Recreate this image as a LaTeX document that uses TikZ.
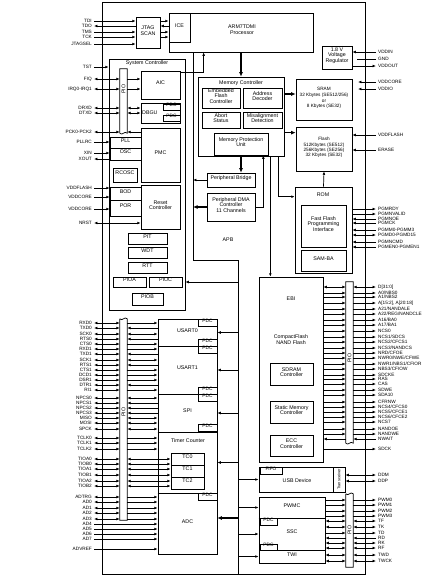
\documentclass[tikz,border=0pt]{standalone}
\usepackage{fontspec}
\setmainfont{Liberation Sans}
\usetikzlibrary{positioning,arrows.meta,fit,calc}

\begin{document}
\begin{tikzpicture}[
  x=1pt, y=-1pt,
  font=\fontsize{5.3}{5.9}\selectfont,
  >={Latex[length=3.4pt,width=2.8pt]},
  blk/.style={draw, line width=0.7pt, inner sep=0pt, align=center},
  txt/.style={inner sep=0pt, align=center},
  memtxt/.style={font=\fontsize{4.7}{5.3}\selectfont},
  pdcbox/.style={draw, line width=0.7pt, inner sep=0pt, font=\fontsize{4.8}{5}\selectfont},
  pinl/.style={anchor=east, inner xsep=2pt, inner ysep=0pt, font=\fontsize{4.7}{5}\selectfont},
  pinr/.style={anchor=west, inner xsep=2pt, inner ysep=0pt, font=\fontsize{4.7}{5}\selectfont},
  wire/.style={line width=0.7pt},
  sgI/.style={wire, ->},
  sgO/.style={wire, <-},
  sgB/.style={wire, <->},
  bus/.style={line width=1.5pt, -{Latex[length=4.5pt,width=4pt]}},
  thicksep/.style={line width=1.4pt},
]
  \useasboundingbox (0,0) rectangle (438,582);

  % chip outline
  \node[blk, fit={(102,2) (365,574)}] (chip) {};

  % processor and debug
  \node[blk, fit={(136,17) (160,48)}] (jtag) {JTAG\\SCAN};
  \node[blk, fit={(169,13) (313,52)}] (cpu) {};
  \node[txt] (cpuT) at (242,30) {ARM7TDMI\\Processor};
  \node[blk, fit={(169,13) (190,42)}] (ice) {ICE};
  \node[blk, fit={(322,46) (352,69)}] (vreg) {1.8 V\\Voltage\\Regulator};

  % system controller
  \node[blk, fit={(109,59) (185,310)}] (sysc) {};
  \node[txt] (syscT) at (147,63) {System Controller};
  \node[inner sep=0pt, fit={(120,69) (127,133)}] (pioS) {};
  \draw[wire] (pioS.south west) -- (pioS.north west) -- (pioS.north east) -- (pioS.south east)
    .. controls +(-2.5,-3) and +(2.5,3) .. (pioS.south west);
  \node[txt, rotate=90] (pioST) at (123.5,89) {PIO};
  \node[blk, fit={(141,71) (180,99)}] (aic) {AIC};
  \node[blk, fit={(141,103) (180,123)}] (dbgu) {};
  \node[txt, anchor=west] (dbguT) at (142,113) {DBGU};
  \node[pdcbox, fit={(163,104) (180,110)}] (pdcD1) {PDC};
  \node[pdcbox, fit={(163,115) (180,121)}] (pdcD2) {PDC};
  \node[blk, fit={(141,128) (180,182)}] (pmc) {PMC};
  \node[blk, fit={(110,137) (141,148)}] (pll) {PLL};
  \node[blk, fit={(110,148) (141,160)}] (osc) {OSC};
  \node[blk, fit={(113,168) (137,182)}] (rcosc) {RCOSC};
  \node[blk, fit={(110,187) (141,200)}] (bod) {BOD};
  \node[blk, fit={(110,200) (141,216)}] (por) {POR};
  \node[blk, fit={(141,185) (180,229)}] (rstc) {Reset\\Controller};
  \node[blk, fit={(128,233) (167,244)}] (pit) {PIT};
  \node[blk, fit={(128,247) (167,258)}] (wdt) {WDT};
  \node[blk, fit={(128,262) (167,273)}] (rtt) {RTT};
  \node[blk, fit={(113,277) (146,287)}] (pioA) {PIOA};
  \node[blk, fit={(149,277) (182,287)}] (pioC) {PIOC};
  \node[blk, fit={(132,293) (163,305)}] (pioB) {PIOB};

  % memory controller
  \node[blk, fit={(198,77) (284,156)}] (mc) {};
  \node[txt] (mcT) at (241,83) {Memory Controller};
  \node[blk, fit={(202,88) (240,108)}] (efc) {Embedded\\Flash\\Controller};
  \node[blk, fit={(243,88) (282,108)}] (adec) {Address\\Decoder};
  \node[blk, fit={(202,112) (240,128)}] (abort) {Abort\\Status};
  \node[blk, fit={(243,112) (282,128)}] (misal) {Misalignment\\Detection};
  \node[blk, fit={(214,133) (268,155)}] (mpu) {Memory Protection\\Unit};
  \node[blk, fit={(207,173) (255,187)}] (bridge) {Peripheral Bridge};
  \node[blk, fit={(207,193) (255,221)}] (pdma) {Peripheral DMA\\Controller\\11 Channels};
  \node[txt] (apbT) at (228,240) {APB};

  % memories
  \node[blk, memtxt, fit={(296,79) (352,120)}] (sram) {SRAM\\[1pt]32 Kbytes (SE512/256)\\or\\8 Kbytes (SE32)};
  \node[blk, memtxt, fit={(296,127) (352,171)}] (flash) {Flash\\[1pt]512Kbytes (SE512)\\256Kbytes (SE256)\\32 Kbytes (SE32)};
  \node[blk, fit={(295,187) (352,273)}] (rom) {};
  \node[txt] (romT) at (323,195) {ROM};
  \node[blk, fit={(301,205) (346,247)}] (ffpi) {Fast Flash\\Programming\\Interface};
  \node[blk, fit={(301,250) (346,271)}] (samba) {SAM-BA};

  % external bus interface
  \node[blk, fit={(259,277) (323,462)}] (ebi) {};
  \node[txt] (ebiT) at (291,299) {EBI};
  \node[txt] (cfT) at (291,340) {CompactFlash\\NAND Flash};
  \node[blk, fit={(270,363) (313,385)}] (sdramc) {SDRAM\\Controller};
  \node[blk, fit={(270,401) (313,423)}] (smc) {Static Memory\\Controller};
  \node[blk, fit={(270,435) (313,456)}] (ecc) {ECC\\Controller};
  \node[inner sep=0pt, fit={(346,282) (353,443)}] (pioE) {};
  \draw[wire] (pioE.south west) -- (pioE.north west) -- (pioE.north east) -- (pioE.south east)
    .. controls +(-2.5,-3) and +(2.5,3) .. (pioE.south west);
  \node[txt, rotate=90] (pioET) at (349.5,358) {PIO};

  % usb, pwm, ssc, twi
  \node[blk, fit={(259,467) (345,492)}] (udp) {};
  \node[txt] (udpT) at (297,481) {USB Device};
  \node[pdcbox, fit={(260,467) (282,474)}] (fifo) {FIFO};
  \node[blk, fit={(333,467) (345,492)}] (xcvr) {};
  \node[txt, rotate=90, font=\fontsize{4}{4}\selectfont] (xcvrT) at (xcvr.center) {Transceiver};
  \node[blk, fit={(259,497) (325,518)}] (pwmc) {PWMC};
  \node[blk, fit={(259,518) (325,550)}] (ssc) {SSC};
  \node[blk, fit={(259,550) (325,563)}] (twi) {TWI};
  \draw[thicksep] (pwmc.south west) -- (pwmc.south east);
  \node[pdcbox, fit={(260,518) (277,525)}] (pdcS1) {PDC};
  \node[pdcbox, fit={(260,544) (277,550)}] (pdcS2) {PDC};
  \node[inner sep=0pt, fit={(346,494) (353,567)}] (pioR) {};
  \draw[wire] (pioR.north west) -- (pioR.south west) -- (pioR.south east) -- (pioR.north east)
    .. controls +(-2.5,-3) and +(2.5,3) .. (pioR.north west);
  \node[txt, rotate=90] (pioRT) at (349.5,530) {PIO};

  % usart, spi, timer, adc
  \node[blk, fit={(158,319) (217,346)}] (usart0) {USART0};
  \node[blk, fit={(158,346) (217,394)}] (usart1) {USART1};
  \node[blk, fit={(158,394) (217,432)}] (spi) {SPI};
  \node[blk, fit={(158,432) (217,493)}] (tc) {};
  \node[txt] (tcT) at (188,441) {Timer Counter};
  \node[blk, fit={(171,453) (204,465)}] (tc0) {TC0};
  \node[blk, fit={(171,465) (204,477)}] (tc1) {TC1};
  \node[blk, fit={(171,477) (204,489)}] (tc2) {TC2};
  \node[blk, fit={(158,493) (217,554)}] (adc) {ADC};
  \foreach \b in {usart0,usart1,spi,tc}
    \draw[thicksep] (\b.south west) -- (\b.south east);
  \node[pdcbox, fit={(198,319) (217,326)}] (pdcU1) {PDC};
  \node[pdcbox, fit={(198,339) (217,346)}] (pdcU2) {PDC};
  \node[pdcbox, fit={(198,346) (217,353)}] (pdcU3) {PDC};
  \node[pdcbox, fit={(198,387) (217,394)}] (pdcU4) {PDC};
  \node[pdcbox, fit={(198,394) (217,401)}] (pdcP1) {PDC};
  \node[pdcbox, fit={(198,424) (217,431)}] (pdcP2) {PDC};
  \node[pdcbox, fit={(198,493) (217,500)}] (pdcA) {PDC};
  \node[inner sep=0pt, fit={(120,319) (127,520)}] (pioL) {};
  \draw[wire] (pioL.north west) -- (pioL.south west) -- (pioL.south east) -- (pioL.north east)
    .. controls +(-2.5,-3) and +(2.5,3) .. (pioL.north west);
  \node[txt, rotate=90] (pioLT) at (123.5,412) {PIO};

  % internal buses
  \draw[bus] (cpu.south -| mc.north) -- (mc.north);
  \draw[bus] ([yshift=5.5pt]sram.west -| mc.east) -- ([yshift=5.5pt]sram.west);
  \draw[bus] (mc.east |- mpu.north) -- (flash.west |- mpu.north);
  \draw[bus] (mpu.south) -- (mpu.south |- bridge.north);
  \draw[sgI] (pdma.east) -| ([xshift=-5pt]mpu.south east);
  \coordinate (mcE) at ([xshift=-14pt]mc.south east);
  \coordinate (mcR) at ([xshift=-6pt]mc.south east);
  \draw[sgI] (mcE) -- (mcE |- ebi.north);
  \draw[sgI] (mcR) |- ([yshift=-10pt]rom.north west);
  \draw[sgI] (rom.north) -- (flash.south);
  \draw[sgI] ([yshift=-1.5pt]aic.north east) -| ([xshift=35pt]cpu.south west);

  % APB
  \coordinate (apbA) at (193,52);
  \coordinate (apbB) at (193,260);
  \coordinate (apbC) at (238,260);
  \coordinate (apbD) at (238,574);
  \draw[wire] (apbA) -- (apbB) -- (apbC) -- (apbD);
  \draw[sgI] (bridge.west) -- (bridge.west -| apbA);
  \draw[bus] (pdma.west) -- (pdma.west -| apbA);
  \draw[sgI] (pioC.east -| apbC) -- (pioC.east -| sysc.east);
  \foreach \b in {usart0,usart1,spi,tc}
    \draw[sgI] (\b.east -| apbC) -- (\b.east);
  \coordinate (adcIn) at ([yshift=5.5pt]adc.east);
  \draw[bus] (adcIn -| apbC) -- (adcIn);
  \foreach \b in {udp,pwmc,ssc,twi}
    \draw[sgI] (\b.west -| apbC) -- (\b.west);

  % left pins: jtag
  \foreach \n/\y/\s in {TDI/21/sgI, TDO/26/sgO, TMS/32/sgI, TCK/37/sgI, JTAGSEL/44/sgI}{
    \node[pinl] (pl\y) at (94,\y) {\n};
    \draw[\s] (pl\y.east) -- (pl\y.east -| jtag.west);
  }
  \foreach \y/\s in {21/sgI, 26/sgO, 32/sgI, 37/sgI}
    \draw[\s] (pl\y.east -| jtag.east) -- (pl\y.east -| ice.west);

  % left pins: system controller through PIO
  \foreach \n/\y/\s/\t in {FIQ/79/sgI/aic, IRQ0-IRQ1/89/sgI/aic, DRXD/108/sgB/dbgu,
      DTXD/113/sgB/dbgu, PCK0-PCK2/132/sgO/pmc}{
    \node[pinl] (pl\y) at (94,\y) {\n};
    \draw[sgB] (pl\y.east) -- (pl\y.east -| pioS.west);
    \draw[\s] (pl\y.east -| pioS.east) -- (pl\y.east -| \t.west);
  }

  % left pins: system controller direct
  \foreach \n/\y/\s/\t in {TST/67/sgI/sysc, PLLRC/142/sgI/pll, XIN/153/sgI/osc, XOUT/159/sgO/osc,
      VDDFLASH/188/sgI/bod, VDDCORE/197/sgI/bod, VDDCORE/209/sgI/por, NRST/223/sgB/rstc}{
    \node[pinl] (pl\y) at (94,\y) {\n};
    \draw[\s] (pl\y.east) -- (pl\y.east -| \t.west);
  }

  % left pins: peripherals through PIO
  \foreach \n/\y/\s/\t in {RXD0/323/sgI/usart0, TXD0/328/sgO/usart0, SCK0/334/sgB/usart0,
      RTS0/339/sgO/usart0, CTS0/344/sgI/usart0, RXD1/349/sgI/usart1, TXD1/354/sgO/usart1,
      SCK1/360/sgB/usart1, RTS1/365/sgO/usart1, CTS1/370/sgI/usart1, DCD1/375/sgI/usart1,
      DSR1/380/sgI/usart1, DTR1/385/sgO/usart1, RI1/390/sgI/usart1, NPCS0/398/sgB/spi,
      NPCS1/403/sgO/spi, NPCS2/408/sgO/spi, NPCS3/413/sgO/spi, MISO/418/sgB/spi,
      MOSI/423/sgB/spi, SPCK/429/sgB/spi, TCLK0/438/sgI/tc, TCLK1/443/sgI/tc,
      TCLK2/449/sgI/tc, TIOA0/459/sgB/tc0, TIOB0/464/sgB/tc0, TIOA1/469/sgB/tc1,
      TIOB1/475/sgB/tc1, TIOA2/481/sgB/tc2, TIOB2/486/sgB/tc2, ADTRG/497/sgI/adc,
      AD0/502/sgI/adc, AD1/508/sgI/adc, AD2/513/sgI/adc, AD3/519/sgI/adc}{
    \node[pinl] (pl\y) at (94,\y) {\n};
    \draw[sgB] (pl\y.east) -- (pl\y.east -| pioL.west);
    \draw[\s] (pl\y.east -| pioL.east) -- (pl\y.east -| \t.west);
  }
  \foreach \n/\y in {AD4/524, AD5/529, AD6/534, AD7/539, ADVREF/549}{
    \node[pinl] (pl\y) at (94,\y) {\n};
    \draw[sgI] (pl\y.east) -- (pl\y.east -| adc.west);
  }

  % right pins: power and flash
  \coordinate (gndEnd) at (357,59);
  \coordinate (supIn) at (358,0);
  \foreach \n/\y in {VDDIN/52, GND/59, VDDOUT/66, VDDCORE/82, VDDIO/89, VDDFLASH/135, ERASE/150}
    \node[pinr] (pr\y) at (376,\y) {\n};
  \draw[sgI] (pr52.west) -- (pr52.west -| vreg.east);
  \draw[wire] (pr59.west) -- (gndEnd);
  \draw[sgO] (pr66.west) -- (pr66.west -| vreg.east);
  \draw[sgI] (pr82.west) -- (pr82.west -| supIn);
  \draw[sgI] (pr89.west) -- (pr89.west -| supIn);
  \draw[sgI] (pr135.west) -- (pr135.west -| flash.east);
  \draw[sgI] (pr150.west) -- (pr150.west -| flash.east);

  % right pins: fast flash programming
  \foreach \n/\y/\s in {PGMRDY/209/sgO, PGMNVALID/214/sgO, PGMNOE/219/sgI, PGMCK/223/sgI,
      PGMM0-PGMM3/230/sgI, PGMD0-PGMD15/235/sgB, PGMNCMD/242/sgI, PGMEN0-PGMEN1/247/sgI}{
    \node[pinr] (pr\y) at (376,\y) {\n};
    \draw[\s] (pr\y.west) -- (pr\y.west -| rom.east);
  }

  % right pins: ebi through PIO
  \foreach \n/\y/\s in {{D[31:0]}/287/sgB, {A0/NBS0}/293/sgO, {A1/NBS2}/297/sgO,
      {A[15:2], A[20:18]}/303/sgO, {A21/NANDALE}/309/sgO, {A22/REG/NANDCLE}/314/sgO,
      {A16/BA0}/320/sgO, {A17/BA1}/325/sgO, NCS0/331/sgO, {NCS1/SDCS}/337/sgO,
      {NCS2/CFCS1}/342/sgO, {NCS3/NANDCS}/348/sgO, {NRD/CFOE}/353/sgO,
      {NWR0/NWE/CFWE}/358/sgO, {NWR1/NBS1/CFIOR}/364/sgO, {NBS3/CFIOW}/369/sgO,
      SDCKE/375/sgO, RAS/379/sgO, CAS/384/sgO, SDWE/390/sgO, SDA10/395/sgO, CFRNW/402/sgO,
      {NCS4/CFCS0}/407/sgO, {NCS5/CFCE1}/412/sgO, {NCS6/CFCE2}/417/sgO, NCS7/422/sgO,
      NANDOE/429/sgO, NANDWE/434/sgO, NWAIT/439/sgI}{
    \node[pinr] (pr\y) at (376,\y) {\n};
    \draw[\s] (pr\y.west) -- (pr\y.west -| pioE.east);
    \draw[\s] (pr\y.west -| pioE.west) -- (pr\y.west -| ebi.east);
  }
  \node[pinr] (pr449) at (376,449) {SDCK};
  \draw[sgO] (pr449.west) -- (pr449.west -| ebi.east);

  % right pins: usb
  \foreach \n/\y in {DDM/475, DDP/481}{
    \node[pinr] (pr\y) at (376,\y) {\n};
    \draw[sgB] (pr\y.west) -- (pr\y.west -| udp.east);
  }

  % right pins: pwm, ssc, twi through PIO
  \foreach \n/\y/\s/\t in {PWM0/500/sgO/pwmc, PWM1/505/sgO/pwmc, PWM2/511/sgO/pwmc,
      PWM3/516/sgO/pwmc, TF/521/sgB/ssc, TK/527/sgB/ssc, TD/533/sgO/ssc, RD/538/sgI/ssc,
      RK/543/sgB/ssc, RF/548/sgB/ssc, TWD/555/sgB/twi, TWCK/561/sgB/twi}{
    \node[pinr] (pr\y) at (376,\y) {\n};
    \draw[\s] (pr\y.west) -- (pr\y.west -| pioR.east);
    \draw[\s] (pr\y.west -| pioR.west) -- (pr\y.west -| \t.east);
  }
\end{tikzpicture}
\end{document}
